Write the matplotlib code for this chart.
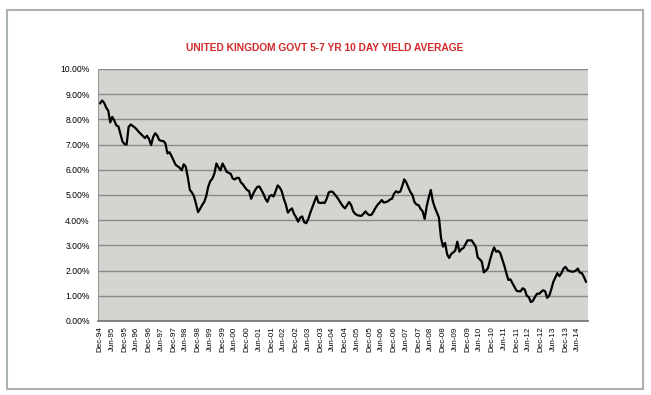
import matplotlib
matplotlib.use("Agg")
import matplotlib.pyplot as plt
from matplotlib.patches import Rectangle

# monthly 10-day average yield (%), Dec-94 .. Oct-14
yields = [
    8.64, 8.75, 8.66, 8.47, 8.35, 7.88, 8.10, 7.95, 7.76, 7.72,
    7.42, 7.12, 7.02, 7.00, 7.70, 7.80, 7.74, 7.68, 7.60, 7.50,
    7.42, 7.34, 7.26, 7.35, 7.22, 6.98, 7.30, 7.45, 7.36, 7.18,
    7.15, 7.14, 7.05, 6.65, 6.70, 6.55, 6.38, 6.20, 6.14, 6.08,
    5.98, 6.22, 6.12, 5.70, 5.20, 5.10, 4.95, 4.65, 4.32, 4.45,
    4.60, 4.72, 4.95, 5.33, 5.55, 5.65, 5.85, 6.25, 6.10, 5.98,
    6.25, 6.10, 5.92, 5.88, 5.84, 5.65, 5.62, 5.68, 5.68, 5.50,
    5.42, 5.30, 5.20, 5.15, 4.85, 5.05, 5.20, 5.32, 5.34, 5.20,
    5.05, 4.85, 4.73, 4.95, 5.00, 4.94, 5.15, 5.38, 5.30, 5.15,
    4.85, 4.62, 4.30, 4.40, 4.47, 4.25, 4.12, 3.94, 4.10, 4.15,
    3.92, 3.88, 4.05, 4.30, 4.52, 4.75, 4.95, 4.70, 4.68, 4.70,
    4.68, 4.85, 5.10, 5.14, 5.12, 5.02, 4.92, 4.80, 4.67, 4.55,
    4.47, 4.60, 4.72, 4.60, 4.35, 4.25, 4.20, 4.18, 4.17, 4.25,
    4.35, 4.25, 4.20, 4.22, 4.35, 4.50, 4.62, 4.70, 4.80, 4.70,
    4.72, 4.75, 4.82, 4.85, 5.05, 5.15, 5.10, 5.13, 5.35, 5.62,
    5.50, 5.30, 5.12, 5.00, 4.72, 4.62, 4.60, 4.45, 4.35, 4.05,
    4.55, 4.90, 5.20, 4.75, 4.50, 4.30, 4.10, 3.30, 2.95, 3.10,
    2.65, 2.50, 2.66, 2.72, 2.80, 3.15, 2.75, 2.85, 2.90, 3.05,
    3.20, 3.20, 3.20, 3.08, 2.95, 2.52, 2.45, 2.35, 1.93, 2.00,
    2.10, 2.42, 2.70, 2.92, 2.75, 2.78, 2.70, 2.45, 2.20, 1.90,
    1.63, 1.65, 1.50, 1.35, 1.20, 1.18, 1.18, 1.30, 1.25, 1.00,
    0.95, 0.75, 0.80, 0.95, 1.08, 1.08, 1.15, 1.22, 1.18, 0.92,
    1.00, 1.25, 1.55, 1.72, 1.90, 1.78, 1.90, 2.08, 2.15, 2.02,
    1.98, 1.96, 1.96, 2.00, 2.08, 1.92, 1.90, 1.75, 1.56,
]

tick_labels = [
    "Dec-94", "Jun-95", "Dec-95", "Jun-96", "Dec-96", "Jun-97", "Dec-97",
    "Jun-98", "Dec-98", "Jun-99", "Dec-99", "Jun-00", "Dec-00", "Jun-01",
    "Dec-01", "Jun-02", "Dec-02", "Jun-03", "Dec-03", "Jun-04", "Dec-04",
    "Jun-05", "Dec-05", "Jun-06", "Dec-06", "Jun-07", "Dec-07", "Jun-08",
    "Dec-08", "Jun-09", "Dec-09", "Jun-10", "Dec-10", "Jun-11", "Dec-11",
    "Jun-12", "Dec-12", "Jun-13", "Dec-13", "Jun-14",
]
y_ticks = [0, 1, 2, 3, 4, 5, 6, 7, 8, 9, 10]

fig = plt.figure(figsize=(6.51, 3.95), dpi=100)
fig.patches.append(Rectangle((7 / 651, 6 / 395), 636 / 651, 379 / 395,
                             transform=fig.transFigure, fill=False,
                             edgecolor="#aab2b2", linewidth=1.5))

ax = fig.add_axes([98 / 651, 74 / 395, 490 / 651, 252 / 395])
ax.set_facecolor("#d4d4d0")

months = list(range(len(yields)))
ax.plot(months, yields, color="black", linewidth=1.6)

ax.set_xlim(-1, 239)
ax.set_ylim(0, 10)
ax.set_yticks(y_ticks)
ax.set_yticklabels([f"{v:.2f}%" for v in y_ticks])
ax.yaxis.grid(True, color="#8a8a8a", linewidth=1.0)
ax.set_axisbelow(True)

ax.set_xticks([6 * i for i in range(len(tick_labels))])
ax.set_xticklabels(tick_labels, rotation=90)

ax.tick_params(axis="y", length=0, pad=6, labelsize=6.2)
ax.tick_params(axis="x", length=0, pad=4, labelsize=5.8)
for lab in ax.get_xticklabels() + ax.get_yticklabels():
    lab.set_fontfamily("Liberation Sans")

for side in ["top", "right"]:
    ax.spines[side].set_visible(False)
ax.spines["left"].set_color("#9a9a9a")
ax.spines["bottom"].set_color("#707070")
ax.spines["bottom"].set_linewidth(1.2)

fig.text(325 / 651, 1 - 48 / 395, "UNITED KINGDOM GOVT 5-7 YR 10 DAY YIELD AVERAGE",
         ha="center", va="center", color="#d42a2a", fontsize=7.4,
         fontweight="bold", family="Liberation Sans")

fig.savefig("out.png", dpi=100)
